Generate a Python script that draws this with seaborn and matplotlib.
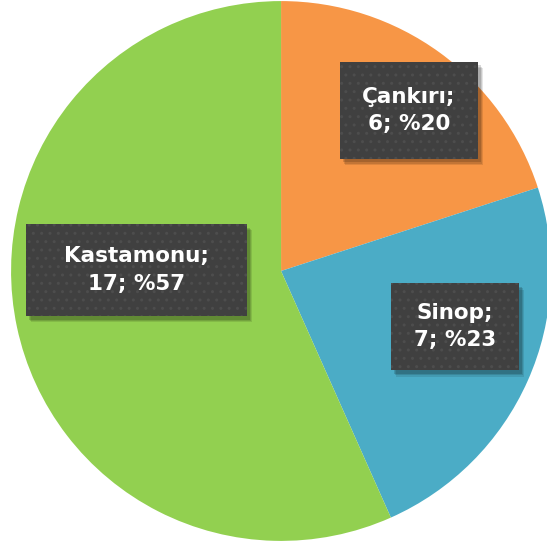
import numpy as np
import matplotlib
matplotlib.use("Agg")
import matplotlib.pyplot as plt
import matplotlib.transforms as mtransforms
from matplotlib.patches import Rectangle
import seaborn as sns

sns.set_style("white")
plt.rcParams['font.family'] = ['DejaVu Sans']

# data
cities = ["Çankırı", "Sinop", "Kastamonu"]
counts = [6, 7, 17]
colors = ["#F79646", "#4BACC6", "#92D050"]

# label box centres (data coords) and box sizes (width, height)
label_pos = [(0.474, 0.596), (0.644, -0.207), (-0.537, 0.004)]
box_size = [(0.511, 0.359), (0.474, 0.322), (0.819, 0.341)]

fig = plt.figure(figsize=(5.47, 5.49), dpi=100)
ax = fig.add_axes([0, 0, 1, 1])

ax.pie(counts, colors=colors, startangle=90, counterclock=False,
       radius=1.0, wedgeprops=dict(linewidth=0))

total = sum(counts)
for name, n, (x, y), (w, h) in zip(cities, counts, label_pos, box_size):
    pct = int(round(100.0 * n / total))
    # soft drop shadow
    for k, a in [(5, 0.10), (4, 0.12), (3, 0.15)]:
        tr = mtransforms.offset_copy(ax.transData, fig=fig, x=k * 0.75, y=-k * 0.9, units="points")
        ax.add_patch(Rectangle((x - w / 2, y - h / 2), w, h, facecolor="black",
                               alpha=a, linewidth=0, transform=tr, zorder=4))
    ax.add_patch(Rectangle((x - w / 2, y - h / 2), w, h, facecolor="#404040",
                           edgecolor="#4d4d4d", linewidth=0, hatch="..", zorder=5))
    ax.text(x, y, "%s;\n%d; %%%d" % (name, n, pct), ha="center", va="center",
            color="white", fontsize=15.5, fontweight="bold", linespacing=1.45, zorder=6)

ax.set_xlim(-1.041, 0.985)
ax.set_ylim(-1.030, 1.004)
ax.set_aspect("auto")
ax.axis("off")

fig.savefig("out.png", dpi=100)
